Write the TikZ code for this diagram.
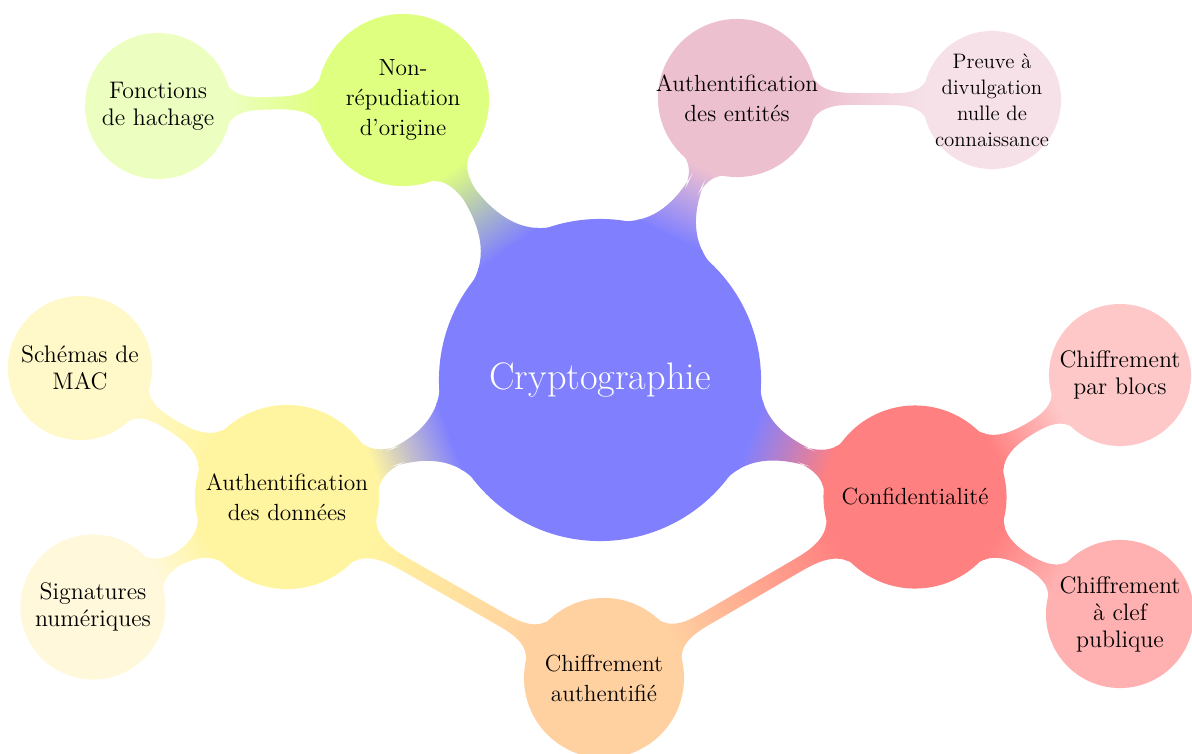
\documentclass[tikz,border=0pt]{standalone}
% Palatino when its metrics and outlines are at hand, Latin Modern otherwise
\IfFileExists{pplr8t.tfm}{%
  \IfFileExists{uplr8a.pfb}{%
    \usepackage[T1]{fontenc}%
    \renewcommand{\rmdefault}{ppl}%
  }{}%
}{}
\usetikzlibrary{mindmap,backgrounds}

% Concept colours
\definecolor{cCenter}{HTML}{8080FF}
\definecolor{cNon}{HTML}{DFFF80}
\definecolor{cHach}{HTML}{EDFFC0}
\definecolor{cEnt}{HTML}{EDC0D0}
\definecolor{cPreuve}{HTML}{F6E1E8}
\definecolor{cConf}{HTML}{FF8080}
\definecolor{cBlocs}{HTML}{FFC8C8}
\definecolor{cPub}{HTML}{FFB0B0}
\definecolor{cDon}{HTML}{FFF5A0}
\definecolor{cMAC}{HTML}{FFF8C8}
\definecolor{cSig}{HTML}{FFF8DA}
\definecolor{cCA}{HTML}{FFD0A0}

\begin{document}
\begin{tikzpicture}[mindmap,
  % negative inner sep keeps each disc at its own size, the text may reach its rim
  bubble/.style={concept, text width=, align=center, inner sep=-0.6cm, text=black},
  mainfont/.style={font=\fontsize{13.3}{17}\selectfont},
  subfont/.style={font=\fontsize{13.6}{15.4}\selectfont},
  smallfont/.style={font=\fontsize{11.9}{14.8}\selectfont},
  mainbar/.style={line width=0.3cm},
  subbar/.style={line width=0.27cm}
]
\useasboundingbox (0,0) rectangle (23.84,-15.06);

% central concept
\node[bubble, concept color=cCenter, minimum size=6.4cm, text=white,
      font=\fontsize{21.8}{26}\selectfont] (crypto) at (12,-7.6) {Cryptographie};

% first ring
\node[bubble, mainfont, concept color=cNon, minimum size=3.4cm] (nonrep) at (8.06,-2.0)
  {Non-\\r\'epudiation\\d'origine};
\node[bubble, mainfont, concept color=cEnt, minimum size=3.12cm] (ent) at (14.74,-1.96)
  {Authentification\\des entit\'es};
\node[bubble, mainfont, concept color=cConf, minimum size=3.62cm] (conf) at (18.3,-9.94)
  {Confidentialit\'e};
\node[bubble, mainfont, concept color=cDon, minimum size=3.64cm] (don) at (5.74,-9.94)
  {Authentification\\des donn\'ees};
\node[bubble, mainfont, concept color=cCA, minimum size=3.16cm] (ca) at (12.08,-13.56)
  {Chiffrement\\authentifi\'e};

% second ring
\node[bubble, subfont, concept color=cHach, minimum size=2.88cm] (hach) at (3.16,-2.12)
  {Fonctions\\de hachage};
\node[bubble, smallfont, concept color=cPreuve, minimum size=2.72cm] (preuve) at (19.84,-2.0)
  {Preuve \`a\\divulgation\\nulle de\\connaissance};
\node[bubble, subfont, concept color=cBlocs, minimum size=2.8cm] (blocs) at (22.4,-7.5)
  {Chiffrement\\par blocs};
\node[bubble, subfont, concept color=cPub, minimum size=2.92cm] (pub) at (22.4,-12.28)
  {Chiffrement\\\`a clef\\publique};
\node[bubble, subfont, concept color=cMAC, minimum size=2.84cm] (mac) at (1.6,-7.36)
  {Sch\'emas de\\MAC};
\node[bubble, subfont, concept color=cSig, minimum size=2.86cm] (sig) at (1.86,-12.14)
  {Signatures\\num\'eriques};

\begin{pgfonlayer}{background}
  \path[mainbar] (crypto) to[circle connection bar switch color=from (cCenter) to (cNon)] (nonrep);
  \path[mainbar] (crypto) to[circle connection bar switch color=from (cCenter) to (cEnt)] (ent);
  \path[mainbar] (crypto) to[circle connection bar switch color=from (cCenter) to (cConf)] (conf);
  \path[mainbar] (crypto) to[circle connection bar switch color=from (cCenter) to (cDon)] (don);
  \path[subbar] (nonrep) to[circle connection bar switch color=from (cNon) to (cHach)] (hach);
  \path[subbar] (ent) to[circle connection bar switch color=from (cEnt) to (cPreuve)] (preuve);
  \path[subbar] (conf) to[circle connection bar switch color=from (cConf) to (cBlocs)] (blocs);
  \path[subbar] (conf) to[circle connection bar switch color=from (cConf) to (cPub)] (pub);
  \path[subbar] (don) to[circle connection bar switch color=from (cDon) to (cMAC)] (mac);
  \path[subbar] (don) to[circle connection bar switch color=from (cDon) to (cSig)] (sig);
  \path[subbar] (don) to[circle connection bar switch color=from (cDon) to (cCA)] (ca);
  \path[subbar] (conf) to[circle connection bar switch color=from (cConf) to (cCA)] (ca);
\end{pgfonlayer}
\end{tikzpicture}
\end{document}
